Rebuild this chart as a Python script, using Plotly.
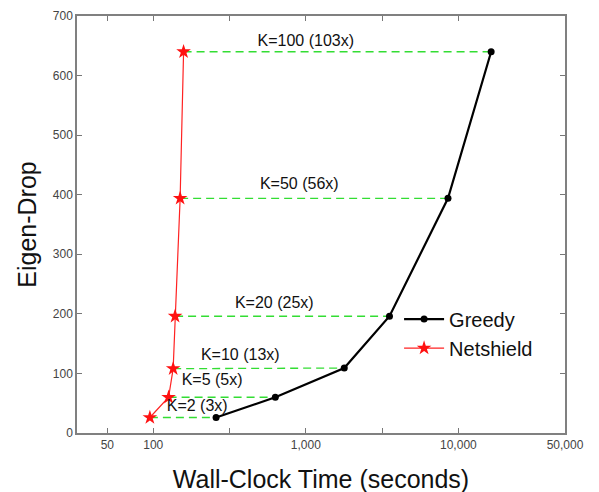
import plotly.graph_objects as go

ks = [2, 5, 10, 20, 50, 100]
speedup = ["3x", "5x", "13x", "25x", "56x", "103x"]
greedy_time = [258, 631, 1786, 3535, 8550, 16400]
greedy_drop = [26, 60, 109, 196, 394, 640]
net_time = [95, 126, 135, 139, 150, 158]
net_drop = [26, 60, 108, 196, 394, 640]
label_x = [194, 243, 372, 621, 906, 1000]
label_y = [44, 88, 129, 217, 416, 657]

tick_vals = [50, 100, 316, 1000, 3162, 10000, 50000]
tick_text = ["50", "100", "", "1,000", "", "10,000", "50,000"]

fig = go.Figure()

for i in range(len(ks)):
    fig.add_trace(go.Scatter(
        x=[net_time[i], greedy_time[i]], y=[net_drop[i], greedy_drop[i]],
        mode="lines", line=dict(color="#33dd33", width=1.3, dash="8px,5px"),
        showlegend=False, hoverinfo="skip"))

fig.add_trace(go.Scatter(
    x=greedy_time, y=greedy_drop, mode="lines+markers", name="Greedy",
    line=dict(color="black", width=2.2),
    marker=dict(symbol="circle", size=7, color="black")))
fig.add_trace(go.Scatter(
    x=net_time, y=net_drop, mode="lines+markers", name="Netshield",
    line=dict(color="#ff2222", width=1.2),
    marker=dict(symbol="star", size=11, color="#ff1111")))

fig.add_trace(go.Scatter(
    x=label_x, y=label_y, mode="text",
    text=[f"K={k} ({s})" for k, s in zip(ks, speedup)],
    textposition="middle center",
    textfont=dict(size=16, color="#111111", family="Liberation Sans, Arial"),
    showlegend=False, hoverinfo="skip"))

fig.update_layout(
    width=599, height=492,
    margin=dict(l=69, r=42, t=8, b=67),
    paper_bgcolor="white", plot_bgcolor="white",
    font=dict(family="Liberation Sans, Arial", color="#111111"),
    legend=dict(x=0.66, y=0.32, xanchor="left", yanchor="top",
                bgcolor="rgba(0,0,0,0)", font=dict(size=20, color="#111111"),
                itemwidth=40, tracegroupgap=0),
    showlegend=True,
)
fig.update_xaxes(
    type="log", range=[1.5, 4.699], tickvals=tick_vals, ticktext=tick_text,
    ticks="inside", ticklen=5, tickcolor="#777777", mirror="ticks",
    showline=True, linecolor="#808080", linewidth=1.5, showgrid=False,
    zeroline=False, tickfont=dict(size=12, color="#444444"), automargin=False,
    ticklabeloverflow="allow",
    title=dict(text="Wall-Clock Time (seconds)", font=dict(size=25, color="#111111"), standoff=19))
fig.update_yaxes(
    range=[0, 700], tickvals=[0, 100, 200, 300, 400, 500, 600, 700],
    ticks="inside", ticklen=5, tickcolor="#777777", mirror="ticks",
    showline=True, linecolor="#808080", linewidth=1.5, showgrid=False,
    zeroline=False, tickfont=dict(size=12, color="#444444"), automargin=False,
    ticklabeloverflow="allow",
    title=dict(text="Eigen-Drop", font=dict(size=25, color="#111111"), standoff=9))

fig.write_html("out.html")
